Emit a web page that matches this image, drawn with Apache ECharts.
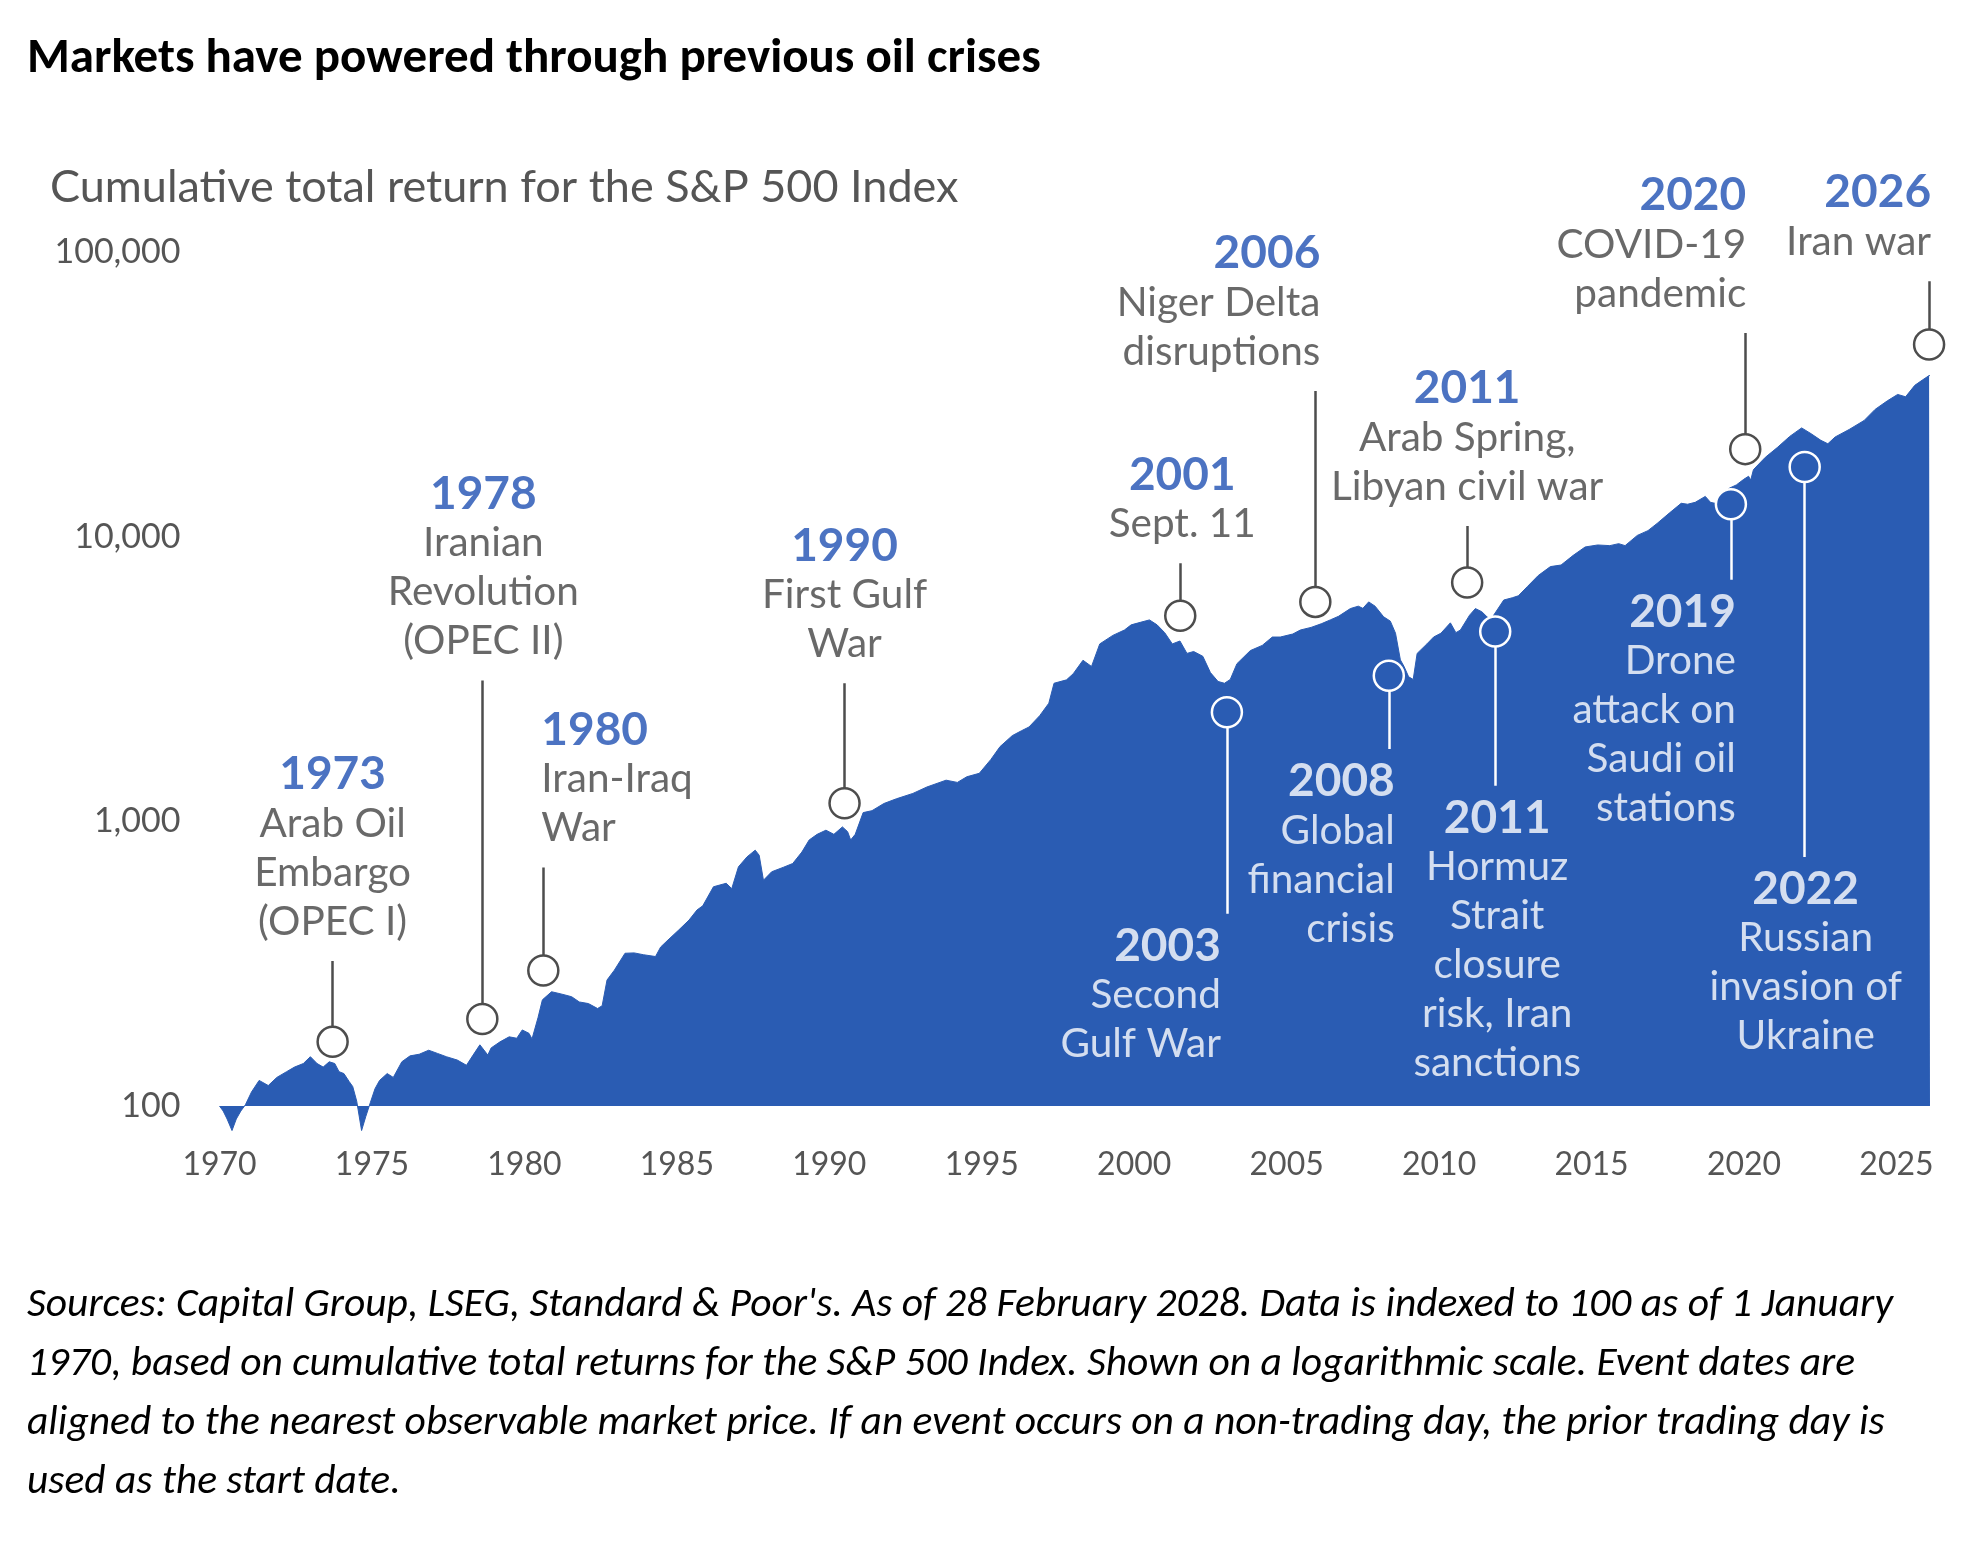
<!DOCTYPE html>
<html>
<head>
<meta charset="utf-8">
<title>Markets have powered through previous oil crises</title>
<script src="https://cdn.jsdelivr.net/npm/echarts@6/dist/echarts.min.js"></script>
<style>
  html, body { margin: 0; padding: 0; background: #fff; }
  #chart { width: 1966px; height: 1549px; }
</style>
</head>
<body>
<div id="chart"></div>
<script>
// S&P 500 cumulative total return, indexed to 100 at 1 Jan 1970
var years = [
    1970.00, 1970.12, 1970.25, 1970.41, 1970.55, 1970.70, 1970.85, 1971.05, 1971.30, 1971.60,
    1971.88, 1972.20, 1972.46, 1972.75, 1972.98, 1973.20, 1973.40, 1973.60, 1973.78, 1973.92,
    1974.08, 1974.25, 1974.37, 1974.50, 1974.66, 1974.80, 1974.95, 1975.10, 1975.25, 1975.50,
    1975.70, 1975.98, 1976.25, 1976.55, 1976.86, 1977.15, 1977.44, 1977.80, 1978.10, 1978.30,
    1978.54, 1978.80, 1978.91, 1979.20, 1979.50, 1979.75, 1979.93, 1980.15, 1980.25, 1980.45,
    1980.59, 1980.89, 1981.10, 1981.30, 1981.55, 1981.80, 1982.10, 1982.40, 1982.55, 1982.71,
    1982.95, 1983.30, 1983.60, 1983.90, 1984.30, 1984.47, 1984.71, 1985.06, 1985.40, 1985.66,
    1985.85, 1986.20, 1986.62, 1986.80, 1987.02, 1987.30, 1987.57, 1987.70, 1987.84, 1988.11,
    1988.50, 1988.80, 1989.10, 1989.34, 1989.60, 1989.89, 1990.15, 1990.43, 1990.60, 1990.70,
    1990.85, 1991.11, 1991.40, 1991.79, 1992.20, 1992.74, 1993.20, 1993.83, 1994.20, 1994.51,
    1994.92, 1995.30, 1995.60, 1996.00, 1996.30, 1996.55, 1996.90, 1997.20, 1997.37, 1997.78,
    1998.00, 1998.32, 1998.60, 1998.87, 1999.30, 1999.68, 1999.90, 2000.20, 2000.50, 2000.75,
    2001.00, 2001.25, 2001.50, 2001.73, 2001.95, 2002.25, 2002.50, 2002.75, 2002.96, 2003.15,
    2003.37, 2003.81, 2004.20, 2004.53, 2004.79, 2005.20, 2005.45, 2005.80, 2006.15, 2006.43,
    2006.70, 2007.09, 2007.35, 2007.50, 2007.69, 2007.90, 2008.18, 2008.40, 2008.57, 2008.73,
    2008.85, 2009.00, 2009.15, 2009.28, 2009.60, 2009.82, 2010.06, 2010.37, 2010.55, 2010.70,
    2011.00, 2011.19, 2011.40, 2011.57, 2011.70, 2011.79, 2012.12, 2012.40, 2012.60, 2012.89,
    2013.25, 2013.65, 2014.00, 2014.40, 2014.79, 2015.20, 2015.60, 2015.89, 2016.10, 2016.50,
    2016.85, 2017.15, 2017.55, 2017.94, 2018.15, 2018.40, 2018.73, 2018.90, 2019.04, 2019.30,
    2019.52, 2019.75, 2019.99, 2020.15, 2020.22, 2020.31, 2020.70, 2021.10, 2021.50, 2021.89,
    2022.20, 2022.52, 2022.75, 2022.99, 2023.45, 2023.94, 2024.30, 2024.70, 2025.04, 2025.30,
    2025.60, 2025.85, 2026.07, 2026.10
];
var totalReturn = [
    100, 96, 90, 82, 90, 96, 101, 112, 123, 118,
    126, 132, 137, 141, 149, 141, 137, 143, 141, 132,
    130, 122, 117, 104, 82, 92, 103, 115, 123, 130,
    126, 143, 150, 152, 157, 153, 149, 145, 139, 150,
    164, 151, 160, 168, 175, 173, 185, 180, 172, 205,
    236, 252, 249, 246, 242, 232, 229, 220, 225, 277,
    300, 344, 345, 340, 335, 362, 383, 415, 450, 488,
    505, 589, 606, 580, 692, 750, 792, 760, 621, 665,
    690, 711, 780, 860, 900, 931, 900, 956, 920, 860,
    900, 1073, 1090, 1155, 1200, 1253, 1320, 1395, 1370, 1434,
    1475, 1650, 1830, 2000, 2080, 2145, 2350, 2600, 3055, 3140,
    3300, 3680, 3500, 4200, 4500, 4700, 4900, 5000, 5100, 4900,
    4600, 4200, 4300, 3890, 3950, 3800, 3330, 3100, 3055, 3150,
    3580, 3980, 4150, 4440, 4440, 4550, 4700, 4800, 4950, 5100,
    5250, 5590, 5700, 5600, 5900, 5700, 5230, 5050, 4580, 3690,
    3500, 3220, 3150, 3890, 4200, 4440, 4580, 4980, 4600, 4700,
    5300, 5590, 5450, 5230, 5100, 5300, 5990, 6100, 6200, 6670,
    7300, 7850, 7950, 8600, 9200, 9350, 9300, 9450, 9300, 10100,
    10500, 11130, 12100, 13100, 13000, 13200, 13850, 13200, 13100, 14200,
    14800, 15200, 15900, 16300, 15800, 17200, 19000, 20600, 22500, 24100,
    23000, 21800, 21200, 22400, 23800, 25600, 28000, 30000, 31600, 31000,
    34000, 35500, 36800, 36800
];

var xTicks = [1970, 1975, 1980, 1985, 1990, 1995, 2000, 2005, 2010, 2015, 2020, 2025];
var yTicks = [100, 1000, 10000, 100000];

// events: circle position, end of the leader line, text
var eventYears = [1973.71, 1978.62, 1980.62, 1990.50, 2001.51, 2003.04, 2005.94, 2008.35, 2010.92, 2011.84, 2019.57, 2020.04, 2021.99, 2026.07];
var eventPoints = [168, 202, 299, 1157, 5270, 2415, 5900, 3245, 6900, 4640, 13000, 20300, 17580, 47300];
var eventLineEnds = [323, 3125, 689, 3055, 8070, 474, 32500, 1795, 10900, 1334, 7060, 51900, 750, 79000];
var eventTitles = ["1973", "1978", "1980", "1990", "2001", "2003", "2006", "2008", "2011", "2011", "2019", "2020", "2022", "2026"];
var eventNotes = [
    "Arab Oil\nEmbargo\n(OPEC I)",
    "Iranian\nRevolution\n(OPEC II)",
    "Iran-Iraq\nWar",
    "First Gulf\nWar",
    "Sept. 11",
    "Second\nGulf War",
    "Niger Delta\ndisruptions",
    "Global\nfinancial\ncrisis",
    "Arab Spring,\nLibyan civil war",
    "Hormuz\nStrait\nclosure\nrisk, Iran\nsanctions",
    "Drone\nattack on\nSaudi oil\nstations",
    "COVID-19\npandemic",
    "Russian\ninvasion of\nUkraine",
    "Iran war"
];

var footnote = [
    "Sources: Capital Group, LSEG, Standard & Poor's. As of 28 February 2028. Data is indexed to 100 as of 1 January",
    "1970, based on cumulative total returns for the S&P 500 Index. Shown on a logarithmic scale. Event dates are",
    "aligned to the nearest observable market price. If an event occurs on a non-trading day, the prior trading day is",
    "used as the start date."
];

// label layout (how each text block sits against its leader line)
var labelAlign = ["center", "center", "left", "center", "center", "right", "right", "right", "center", "center", "right", "right", "center", "right"];
var labelShift = [0, 1, -2, 0, 2, -6, 5, 6, 0, 2, 5, 1, 1, 2];

var BLUE = "#2a5cb3";
var YEAR_BLUE = "#1f50b3";
var FONT = "Lato, 'Open Sans', sans-serif";

function buildOption() {
    var area = years.map(function (y, i) { return [y, totalReturn[i]]; });
    var circles = [], leaders = [], labels = [];

    eventYears.forEach(function (yr, i) {
        var down = eventLineEnds[i] < eventPoints[i];
        var stroke = down ? "#ffffff" : "#4d4d4d";
        circles.push({
            value: [yr, eventPoints[i]],
            itemStyle: { color: down ? BLUE : "#ffffff", borderColor: stroke }
        });
        leaders.push({
            coords: [[yr, eventPoints[i]], [yr, eventLineEnds[i]]],
            lineStyle: { color: stroke }
        });
        var yStyle = down ? "yw" : "y", tStyle = down ? "tw" : "t";
        var txt = "{" + yStyle + "|" + eventTitles[i] + "}\n" +
            eventNotes[i].split("\n").map(function (l) { return "{" + tStyle + "|" + l + "}"; }).join("\n");
        labels.push({
            value: [yr, eventLineEnds[i]],
            label: {
                show: true,
                formatter: txt,
                position: down ? "bottom" : "top",
                distance: down ? 8 : 15,
                align: labelAlign[i],
                offset: [labelShift[i], 0]
            }
        });
    });

    return {
        animation: false,
        backgroundColor: "#ffffff",
        title: [{
            text: "Markets have powered through previous oil crises",
            left: 22, top: 30,
            textStyle: { fontFamily: "Carlito, Lato, sans-serif", fontWeight: "bold", fontSize: 49, color: "#000" }
        }, {
            text: "Cumulative total return for the S&P 500 Index",
            left: 45, top: 160,
            textStyle: { fontFamily: FONT, fontWeight: "normal", fontSize: 45, color: "#555" }
        }, {
            text: footnote.join("\n"),
            left: 22, top: 1271,
            textStyle: { fontFamily: "Carlito, Lato, sans-serif", fontStyle: "italic", fontWeight: "normal", fontSize: 41.5, lineHeight: 59, color: "#000" }
        }],
        grid: { left: 219.5, right: 36, top: 252, bottom: 443 },
        xAxis: {
            type: "value", min: 1970, max: 2026.1, interval: 5,
            axisLine: { show: false }, axisTick: { show: false }, splitLine: { show: false },
            axisLabel: {
                margin: 43, fontFamily: FONT, fontSize: 32, color: "#555",
                formatter: function (v) { return xTicks.indexOf(v) >= 0 ? String(v) : ""; }
            }
        },
        yAxis: {
            type: "log", logBase: 10, min: 100, max: 100000,
            axisLine: { show: false }, axisTick: { show: false }, splitLine: { show: false },
            axisLabel: {
                margin: 39, fontFamily: FONT, fontSize: 34, color: "#555",
                formatter: function (v) {
                    return yTicks.indexOf(v) >= 0 ? v.toLocaleString("en-US") : "";
                }
            }
        },
        series: [{
            name: "S&P 500",
            type: "line",
            data: area,
            showSymbol: false,
            clip: false,
            z: 2,
            lineStyle: { width: 1, color: BLUE },
            areaStyle: { color: BLUE, opacity: 1 },
            silent: true
        }, {
            type: "lines",
            coordinateSystem: "cartesian2d",
            data: leaders,
            z: 3,
            lineStyle: { width: 2.5, opacity: 1 },
            silent: true
        }, {
            type: "scatter",
            data: circles,
            symbol: "circle",
            symbolSize: 30,
            z: 4,
            itemStyle: { borderWidth: 2.5, opacity: 1 },
            silent: true
        }, {
            type: "scatter",
            data: labels,
            symbolSize: 0,
            z: 5,
            silent: true,
            label: {
                fontFamily: FONT,
                rich: {
                    y: { fontFamily: FONT, fontSize: 46, fontWeight: "bold", color: YEAR_BLUE, lineHeight: 49 },
                    t: { fontFamily: FONT, fontSize: 40.5, color: "#444", lineHeight: 49 },
                    yw: { fontFamily: FONT, fontSize: 46, fontWeight: "bold", color: "#ffffff", lineHeight: 49 },
                    tw: { fontFamily: FONT, fontSize: 40.5, color: "#ffffff", lineHeight: 49 }
                }
            }
        }]
    };
}

var myChart = echarts.init(document.getElementById("chart"));
myChart.setOption(buildOption());
</script>
</body>
</html>
